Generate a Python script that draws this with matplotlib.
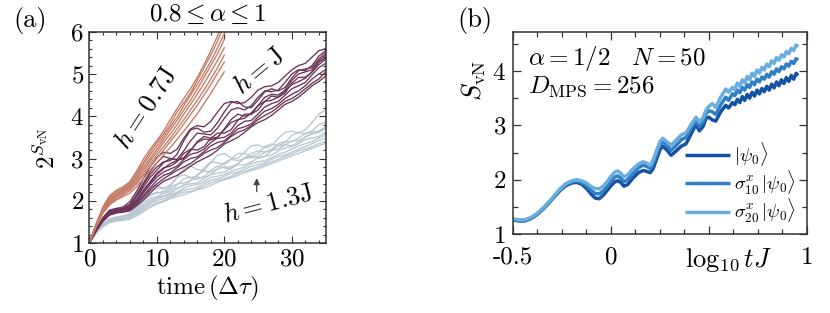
import matplotlib
matplotlib.use("Agg")
import matplotlib.pyplot as plt
from matplotlib.ticker import MultipleLocator

plt.rcParams['font.family'] = 'serif'
plt.rcParams['font.serif'] = ['cmr10']
plt.rcParams['mathtext.fontset'] = 'cm'
plt.rcParams['axes.formatter.use_mathtext'] = True

# ---- panel (a): 2^S vs time, three field strengths ----
t_short = list(range(0, 21))
t_long = list(range(0, 36))

h07_lines = [
    [1.00, 1.45, 1.85, 2.12, 2.25, 2.33, 2.45, 2.70, 2.98, 3.22, 3.42, 3.65, 3.92, 4.18, 4.42, 4.65, 4.92, 5.22, 5.55, 5.90, 6.30],
    [1.00, 1.44, 1.82, 2.08, 2.22, 2.30, 2.42, 2.66, 2.90, 3.15, 3.38, 3.58, 3.82, 4.10, 4.32, 4.55, 4.85, 5.15, 5.45, 5.78, 6.15],
    [1.00, 1.43, 1.80, 2.05, 2.18, 2.27, 2.38, 2.60, 2.85, 3.08, 3.30, 3.52, 3.75, 3.98, 4.25, 4.50, 4.75, 5.02, 5.30, 5.62, 5.95],
    [1.00, 1.42, 1.78, 2.02, 2.15, 2.24, 2.35, 2.55, 2.78, 3.00, 3.22, 3.45, 3.68, 3.90, 4.15, 4.38, 4.64, 4.92, 5.20, 5.48, 5.82],
    [1.00, 1.41, 1.76, 1.99, 2.12, 2.21, 2.32, 2.50, 2.72, 2.95, 3.15, 3.38, 3.58, 3.80, 4.05, 4.28, 4.52, 4.78, 5.05, 5.32, 5.62],
    [1.00, 1.40, 1.74, 1.96, 2.09, 2.18, 2.28, 2.45, 2.65, 2.88, 3.08, 3.28, 3.48, 3.70, 3.92, 4.15, 4.38, 4.62, 4.88, 5.15, 5.45],
    [1.00, 1.39, 1.72, 1.93, 2.05, 2.14, 2.24, 2.40, 2.60, 2.80, 3.00, 3.20, 3.40, 3.60, 3.82, 4.04, 4.26, 4.50, 4.75, 5.02, 5.28],
    [1.00, 1.38, 1.70, 1.90, 2.02, 2.10, 2.18, 2.33, 2.52, 2.72, 2.90, 3.08, 3.26, 3.45, 3.65, 3.85, 4.06, 4.30, 4.54, 4.80, 5.05],
]

h10_lines = [
    [1.00, 1.32, 1.60, 1.78, 1.82, 1.85, 1.98, 2.22, 2.52, 2.80, 3.02, 3.15, 3.12, 3.22, 3.48, 3.70, 3.78, 3.75, 3.88, 4.10, 4.30, 4.35, 4.30, 4.32, 4.45, 4.62, 4.70, 4.72, 4.80, 4.95, 5.10, 5.20, 5.25, 5.40, 5.55, 5.60],
    [1.00, 1.31, 1.58, 1.76, 1.80, 1.82, 1.92, 2.15, 2.42, 2.68, 2.90, 3.05, 3.00, 2.98, 3.18, 3.42, 3.60, 3.58, 3.56, 3.72, 3.95, 4.15, 4.20, 4.15, 4.25, 4.45, 4.60, 4.58, 4.62, 4.80, 5.00, 5.10, 5.08, 5.20, 5.42, 5.55],
    [1.00, 1.30, 1.56, 1.73, 1.78, 1.80, 1.88, 2.08, 2.32, 2.55, 2.72, 2.90, 3.00, 2.96, 3.00, 3.18, 3.40, 3.52, 3.48, 3.50, 3.70, 3.92, 4.05, 4.00, 4.05, 4.25, 4.45, 4.52, 4.50, 4.62, 4.85, 5.00, 5.05, 5.10, 5.30, 5.45],
    [1.00, 1.30, 1.55, 1.71, 1.76, 1.78, 1.85, 2.02, 2.25, 2.45, 2.65, 2.78, 2.82, 2.92, 3.12, 3.22, 3.20, 3.28, 3.48, 3.60, 3.60, 3.68, 3.90, 4.05, 4.05, 4.15, 4.35, 4.48, 4.45, 4.55, 4.78, 4.92, 4.92, 5.05, 5.28, 5.38],
    [1.00, 1.29, 1.54, 1.69, 1.74, 1.76, 1.82, 1.98, 2.18, 2.38, 2.56, 2.68, 2.75, 2.82, 2.98, 3.10, 3.14, 3.22, 3.38, 3.48, 3.50, 3.60, 3.78, 3.88, 3.90, 4.05, 4.22, 4.30, 4.35, 4.50, 4.65, 4.72, 4.80, 4.98, 5.15, 5.25],
    [1.00, 1.29, 1.53, 1.68, 1.73, 1.75, 1.80, 1.95, 2.12, 2.30, 2.48, 2.60, 2.66, 2.78, 2.92, 3.00, 3.04, 3.16, 3.30, 3.38, 3.42, 3.55, 3.70, 3.75, 3.82, 3.98, 4.12, 4.18, 4.28, 4.42, 4.52, 4.60, 4.72, 4.88, 5.00, 5.10],
    [1.00, 1.28, 1.52, 1.67, 1.72, 1.74, 1.78, 1.92, 2.08, 2.25, 2.40, 2.52, 2.62, 2.72, 2.80, 2.88, 3.00, 3.12, 3.20, 3.26, 3.38, 3.52, 3.62, 3.68, 3.78, 3.92, 4.02, 4.10, 4.22, 4.35, 4.42, 4.52, 4.65, 4.78, 4.88, 5.05],
    [1.00, 1.28, 1.51, 1.66, 1.71, 1.73, 1.76, 1.88, 2.02, 2.18, 2.34, 2.46, 2.53, 2.60, 2.70, 2.82, 2.92, 3.00, 3.08, 3.20, 3.34, 3.42, 3.50, 3.62, 3.75, 3.85, 3.92, 4.02, 4.15, 4.28, 4.35, 4.45, 4.58, 4.72, 4.82, 4.95],
    [1.00, 1.31, 1.57, 1.74, 1.79, 1.81, 1.90, 2.10, 2.38, 2.62, 2.80, 2.92, 2.95, 3.10, 3.42, 3.68, 3.72, 3.62, 3.65, 3.85, 4.10, 4.32, 4.35, 4.22, 4.20, 4.38, 4.58, 4.65, 4.60, 4.68, 4.90, 5.08, 5.12, 5.15, 5.35, 5.50],
    [1.00, 1.29, 1.54, 1.70, 1.75, 1.77, 1.84, 2.00, 2.22, 2.42, 2.62, 2.76, 2.88, 2.95, 3.02, 3.20, 3.38, 3.46, 3.44, 3.50, 3.68, 3.85, 3.92, 3.95, 4.08, 4.25, 4.35, 4.38, 4.45, 4.60, 4.75, 4.82, 4.90, 5.05, 5.22, 5.35],
]

h13_lines = [
    [1.00, 1.27, 1.46, 1.57, 1.62, 1.64, 1.70, 1.90, 2.12, 2.32, 2.36, 2.30, 2.35, 2.55, 2.76, 2.82, 2.74, 2.72, 2.90, 3.08, 3.12, 3.02, 3.00, 3.15, 3.30, 3.32, 3.25, 3.30, 3.48, 3.62, 3.65, 3.60, 3.68, 3.85, 4.05, 4.15],
    [1.00, 1.26, 1.45, 1.56, 1.60, 1.62, 1.68, 1.85, 2.05, 2.22, 2.30, 2.28, 2.38, 2.55, 2.62, 2.55, 2.58, 2.78, 2.92, 2.90, 2.85, 2.98, 3.12, 3.12, 3.05, 3.12, 3.28, 3.35, 3.30, 3.38, 3.55, 3.62, 3.58, 3.65, 3.80, 3.85],
    [1.00, 1.26, 1.44, 1.55, 1.59, 1.61, 1.66, 1.80, 1.98, 2.12, 2.18, 2.22, 2.32, 2.40, 2.42, 2.48, 2.62, 2.70, 2.68, 2.75, 2.90, 2.98, 2.95, 3.00, 3.12, 3.18, 3.15, 3.22, 3.35, 3.40, 3.40, 3.48, 3.60, 3.62, 3.65, 3.75],
    [1.00, 1.25, 1.43, 1.54, 1.58, 1.60, 1.64, 1.77, 1.93, 2.05, 2.10, 2.18, 2.28, 2.30, 2.35, 2.48, 2.55, 2.55, 2.62, 2.75, 2.80, 2.80, 2.88, 3.00, 3.02, 3.05, 3.15, 3.20, 3.22, 3.32, 3.42, 3.42, 3.50, 3.60, 3.62, 3.70],
    [1.00, 1.25, 1.42, 1.53, 1.57, 1.59, 1.62, 1.74, 1.88, 2.00, 2.08, 2.12, 2.18, 2.28, 2.38, 2.40, 2.42, 2.52, 2.62, 2.65, 2.68, 2.78, 2.85, 2.85, 2.92, 3.02, 3.05, 3.08, 3.18, 3.25, 3.28, 3.35, 3.45, 3.48, 3.52, 3.62],
    [1.00, 1.24, 1.41, 1.52, 1.56, 1.58, 1.61, 1.72, 1.85, 1.96, 2.04, 2.10, 2.14, 2.20, 2.30, 2.36, 2.38, 2.45, 2.55, 2.58, 2.62, 2.70, 2.75, 2.80, 2.88, 2.92, 2.95, 3.02, 3.10, 3.15, 3.22, 3.30, 3.35, 3.40, 3.48, 3.55],
    [1.00, 1.24, 1.40, 1.51, 1.55, 1.57, 1.60, 1.70, 1.82, 1.93, 2.00, 2.05, 2.10, 2.18, 2.25, 2.28, 2.32, 2.40, 2.48, 2.52, 2.58, 2.65, 2.68, 2.75, 2.82, 2.85, 2.90, 2.98, 3.05, 3.08, 3.15, 3.22, 3.28, 3.35, 3.42, 3.48],
    [1.00, 1.23, 1.39, 1.50, 1.54, 1.56, 1.58, 1.67, 1.78, 1.88, 1.95, 2.00, 2.08, 2.15, 2.20, 2.22, 2.28, 2.35, 2.42, 2.48, 2.52, 2.58, 2.65, 2.70, 2.75, 2.80, 2.86, 2.92, 2.98, 3.05, 3.10, 3.18, 3.22, 3.28, 3.35, 3.40],
    [1.00, 1.23, 1.38, 1.48, 1.52, 1.54, 1.56, 1.64, 1.74, 1.84, 1.92, 1.98, 2.05, 2.10, 2.14, 2.20, 2.26, 2.30, 2.36, 2.44, 2.50, 2.54, 2.60, 2.66, 2.72, 2.76, 2.82, 2.88, 2.94, 3.00, 3.06, 3.12, 3.18, 3.24, 3.30, 3.36],
    [1.00, 1.26, 1.45, 1.56, 1.61, 1.63, 1.68, 1.84, 2.02, 2.15, 2.20, 2.18, 2.22, 2.38, 2.52, 2.55, 2.50, 2.58, 2.72, 2.82, 2.78, 2.75, 2.88, 3.02, 3.05, 3.00, 3.05, 3.18, 3.30, 3.32, 3.30, 3.38, 3.52, 3.58, 3.62, 3.72],
]

# ---- panel (b): S_vN vs log10 tJ ----
logt = [-0.50, -0.47, -0.44, -0.41, -0.38, -0.34, -0.30, -0.26, -0.23, -0.20,
        -0.175, -0.15, -0.125, -0.10, -0.08, -0.06, -0.04, -0.02, 0.00, 0.02,
        0.035, 0.05, 0.066, 0.085, 0.11, 0.14, 0.165, 0.185, 0.20, 0.215,
        0.235, 0.25, 0.264, 0.285, 0.307,
        0.33, 0.36, 0.383, 0.41, 0.434, 0.451, 0.47, 0.485, 0.50, 0.518,
        0.535, 0.56, 0.586, 0.60, 0.62,
        0.6325, 0.645, 0.6575, 0.67, 0.6825, 0.695, 0.7075, 0.72, 0.7325, 0.745,
        0.7575, 0.77, 0.7825, 0.795, 0.8075, 0.82, 0.8325, 0.845, 0.8575, 0.87,
        0.8825, 0.895, 0.9075, 0.92, 0.9325, 0.945, 0.955]

S_psi0 = [1.26, 1.24, 1.24, 1.28, 1.35, 1.48, 1.64, 1.80, 1.89, 1.94,
          1.95, 1.92, 1.84, 1.73, 1.66, 1.65, 1.71, 1.80, 1.89, 1.96,
          1.98, 1.95, 1.88, 1.91, 2.02, 2.13, 2.17, 2.15, 2.13, 2.20,
          2.40, 2.55, 2.62, 2.55, 2.45,
          2.52, 2.62, 2.66, 2.85, 3.02, 2.90, 2.98, 3.13, 3.15, 3.10,
          3.08, 3.25, 3.37, 3.32, 3.42,
          3.38, 3.48, 3.42, 3.53, 3.46, 3.57, 3.50, 3.61, 3.54, 3.65,
          3.58, 3.68, 3.62, 3.72, 3.65, 3.76, 3.69, 3.80, 3.73, 3.84,
          3.77, 3.88, 3.81, 3.92, 3.85, 3.96, 3.92]

S_s10 = [1.27, 1.25, 1.25, 1.29, 1.36, 1.49, 1.65, 1.81, 1.91, 1.96,
         1.975, 1.95, 1.89, 1.80, 1.745, 1.74, 1.79, 1.87, 1.97, 2.05,
         2.07, 2.03, 1.96, 2.00, 2.11, 2.22, 2.27, 2.24, 2.21, 2.29,
         2.49, 2.63, 2.70, 2.64, 2.54,
         2.62, 2.74, 2.78, 2.95, 3.09, 2.98, 3.06, 3.22, 3.27, 3.25,
         3.20, 3.38, 3.52, 3.46, 3.58,
         3.55, 3.65, 3.60, 3.70, 3.65, 3.75, 3.70, 3.80, 3.75, 3.85,
         3.80, 3.89, 3.85, 3.94, 3.89, 3.99, 3.94, 4.04, 3.99, 4.08,
         4.04, 4.13, 4.09, 4.18, 4.14, 4.23, 4.20]

S_s20 = [1.28, 1.26, 1.26, 1.30, 1.37, 1.50, 1.66, 1.83, 1.93, 1.98,
         2.00, 1.98, 1.94, 1.87, 1.835, 1.83, 1.88, 1.96, 2.06, 2.14,
         2.16, 2.12, 2.05, 2.09, 2.19, 2.29, 2.33, 2.30, 2.26, 2.36,
         2.56, 2.70, 2.76, 2.70, 2.63,
         2.72, 2.83, 2.86, 3.02, 3.15, 3.06, 3.14, 3.28, 3.35, 3.40,
         3.33, 3.52, 3.67, 3.61, 3.70,
         3.66, 3.78, 3.72, 3.84, 3.78, 3.90, 3.84, 3.96, 3.90, 4.02,
         3.96, 4.07, 4.02, 4.13, 4.08, 4.19, 4.14, 4.25, 4.20, 4.30,
         4.26, 4.36, 4.32, 4.42, 4.38, 4.48, 4.45]

b_labels = [r'$|\psi_0\rangle$', r'$\sigma^x_{10}\,|\psi_0\rangle$', r'$\sigma^x_{20}\,|\psi_0\rangle$']
b_colors = ['#1553a2', '#2f7fc4', '#69aede']

col07 = '#c47a64'
col10 = '#6b3358'
col13 = '#b9c7d1'
spine_col = '#333333'

fig = plt.figure(figsize=(8.3, 3.13), dpi=100)
ax1 = fig.add_axes([0.1076, 0.2236, 0.2846, 0.675])
ax2 = fig.add_axes([0.618, 0.2524, 0.3542, 0.6454])

for ys in h13_lines:
    ax1.plot(t_long, ys, color=col13, lw=0.95)
for ys in h10_lines:
    ax1.plot(t_long, ys, color=col10, lw=0.95)
for ys in h07_lines:
    ax1.plot(t_short, ys, color=col07, lw=0.95)

ax1.set_xlim(0, 35)
ax1.set_ylim(1, 6)
ax1.xaxis.set_major_locator(MultipleLocator(10))
ax1.xaxis.set_minor_locator(MultipleLocator(2))
ax1.yaxis.set_major_locator(MultipleLocator(1))
ax1.yaxis.set_minor_locator(MultipleLocator(0.2))
ax1.tick_params(which='both', direction='in', top=True, right=True,
                color=spine_col, width=0.8, labelsize=18, pad=4)
ax1.tick_params(which='major', length=5)
ax1.tick_params(which='minor', length=2.5)
ax1.set_xlabel(r'$\mathrm{time}\,(\Delta\tau)$', fontsize=18, labelpad=2)
ax1.set_ylabel(r'$2^{S_{\rm vN}}$', fontsize=18)
ax1.yaxis.set_label_coords(-0.125, 0.45)
ax1.text(0.5, 1.025, r'$0.8 \leq \alpha \leq 1$', transform=ax1.transAxes,
         ha='center', va='bottom', fontsize=18)
ax1.text(8.4, 4.19, r'$h=0.7\mathrm{J}$', rotation=57, rotation_mode='anchor',
         ha='center', va='center', fontsize=19)
ax1.text(25.3, 5.09, r'$h=\mathrm{J}$', rotation=40, rotation_mode='anchor',
         ha='center', va='center', fontsize=19)
ax1.text(26.6, 1.92, r'$h=1.3\mathrm{J}$', rotation=15, rotation_mode='anchor',
         ha='center', va='center', fontsize=19)
ax1.annotate('', xy=(24.8, 2.6), xytext=(24.8, 2.15),
             arrowprops=dict(arrowstyle='-|>', color='#444444', lw=0.9,
                             mutation_scale=9))
fig.text(0.016, 0.933, '(a)', fontsize=19, ha='left', va='center')

for ys, lab, c in zip([S_psi0, S_s10, S_s20], b_labels, b_colors):
    ax2.plot(logt, ys, color=c, lw=2.5, label=lab, solid_capstyle='butt')

ax2.set_xlim(-0.5, 1.0)
ax2.set_ylim(1, 4.72)
ax2.set_xticks([-0.5, 0, 0.5, 1])
ax2.set_xticklabels(['-0.5', '0', '', '1'])
ax2.xaxis.set_minor_locator(MultipleLocator(0.125))
ax2.yaxis.set_major_locator(MultipleLocator(1))
ax2.yaxis.set_minor_locator(MultipleLocator(0.5))
ax2.tick_params(which='both', direction='in', top=True, right=True,
                color=spine_col, width=0.9, labelsize=18)
ax2.tick_params(axis='x', pad=9)
ax2.tick_params(axis='y', pad=5)
ax2.tick_params(which='major', length=6)
ax2.tick_params(which='minor', length=3.5)
ax2.set_ylabel(r'$S_{\rm vN}$', fontsize=19)
ax2.yaxis.set_label_coords(-0.085, 0.76)
ax2.text(0.735, -0.13, r'$\log_{10} tJ$', transform=ax2.transAxes,
         ha='center', va='center', fontsize=19)
ax2.text(0.05, 0.835, r'$\alpha = 1/2 \quad N = 50$', transform=ax2.transAxes,
         ha='left', va='baseline', fontsize=18)
ax2.text(0.05, 0.70, r'$D_{\rm MPS} = 256$', transform=ax2.transAxes,
         ha='left', va='baseline', fontsize=18)
ax2.legend(loc='lower right', bbox_to_anchor=(0.962, 0.045), frameon=False,
           fontsize=13.5, handlelength=2.4, handletextpad=0.2,
           labelspacing=0.02, borderpad=0, borderaxespad=0)
fig.text(0.551, 0.933, '(b)', fontsize=19, ha='left', va='center')

for ax in (ax1, ax2):
    for sp in ax.spines.values():
        sp.set_color(spine_col)
        sp.set_linewidth(1.1)

fig.savefig('out.png', dpi=100)
